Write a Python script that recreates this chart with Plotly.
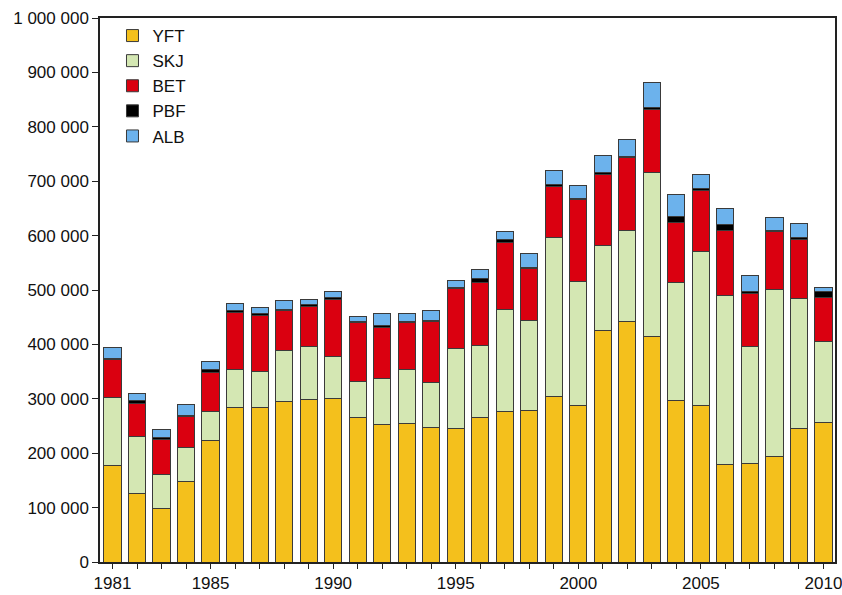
import plotly.graph_objects as go

years = list(range(1981, 2011))
YFT = [177, 126, 99, 148, 224, 284, 284, 295, 299, 301, 265, 252, 255, 248, 245,
       266, 276, 279, 304, 287, 425, 443, 415, 296, 287, 180, 181, 194, 245, 256]
SKJ = [126, 105, 61, 63, 52, 69, 67, 93, 98, 76, 66, 86, 99, 82, 148,
       132, 188, 165, 292, 228, 156, 167, 301, 217, 283, 309, 216, 307, 239, 150]
BET = [69, 61, 66, 57, 72, 105, 103, 75, 72, 106, 109, 93, 86, 112, 109,
       115, 123, 96, 94, 151, 132, 133, 115, 112, 113, 120, 96, 106, 109, 80]
PBF = [3, 4, 2, 2, 5, 5, 2, 2, 4, 3, 3, 3, 2, 2, 2,
       8, 5, 2, 4, 3, 3, 3, 4, 10, 3, 11, 5, 3, 4, 11]
ALB = [19, 13, 15, 20, 16, 12, 11, 15, 9, 11, 9, 22, 14, 19, 14,
       17, 16, 25, 25, 24, 32, 30, 46, 40, 26, 30, 28, 23, 26, 7]

series = [("YFT", YFT, "#F4C01C"), ("SKJ", SKJ, "#D4E7B3"), ("BET", BET, "#DA0010"),
          ("PBF", PBF, "#000000"), ("ALB", ALB, "#6CB2EC")]

ytick_vals = list(range(0, 1000001, 100000))
ytick_text = ["0", "100 000", "200 000", "300 000", "400 000", "500 000",
              "600 000", "700 000", "800 000", "900 000", "1 000 000"]
xtick_vals = [1981, 1985, 1990, 1995, 2000, 2005, 2010]

fig = go.Figure()
for name, vals, col in series:
    fig.add_trace(go.Bar(
        x=years, y=[v * 1000 for v in vals], name=name,
        marker=dict(color=col, line=dict(color="#3a3a3a", width=1)),
        width=0.7,
    ))

fig.update_layout(
    width=842, height=595,
    barmode="stack",
    plot_bgcolor="white", paper_bgcolor="white",
    margin=dict(l=100, r=7, t=18, b=33),
    font=dict(family="Arial, Liberation Sans, sans-serif", size=17, color="#111"),
    showlegend=True,
    legend=dict(x=0.017, y=1.0, xanchor="left", yanchor="top",
                traceorder="normal", bgcolor="rgba(0,0,0,0)",
                font=dict(size=17)),
)
fig.update_xaxes(
    range=[1980.49, 2010.47], automargin=False, ticklabeloverflow="allow",
    tickmode="array", tickvals=years,
    ticktext=[str(y) if y in xtick_vals else "" for y in years],
    ticks="outside", ticklen=5, tickcolor="#222",
    showline=True, linecolor="#222", linewidth=1.5, mirror=True,
    showgrid=False, zeroline=False,
)
fig.update_yaxes(
    range=[0, 1000000], automargin=False, ticklabeloverflow="allow",
    tickmode="array", tickvals=ytick_vals, ticktext=ytick_text,
    ticks="outside", ticklen=6, tickcolor="#222",
    showline=True, linecolor="#222", linewidth=1.5, mirror=True,
    showgrid=False, zeroline=False,
)

fig.write_html("out.html",
               config={"displayModeBar": False},
               post_script="document.body.style.margin='0';"
                           "document.body.style.overflow='hidden';")
